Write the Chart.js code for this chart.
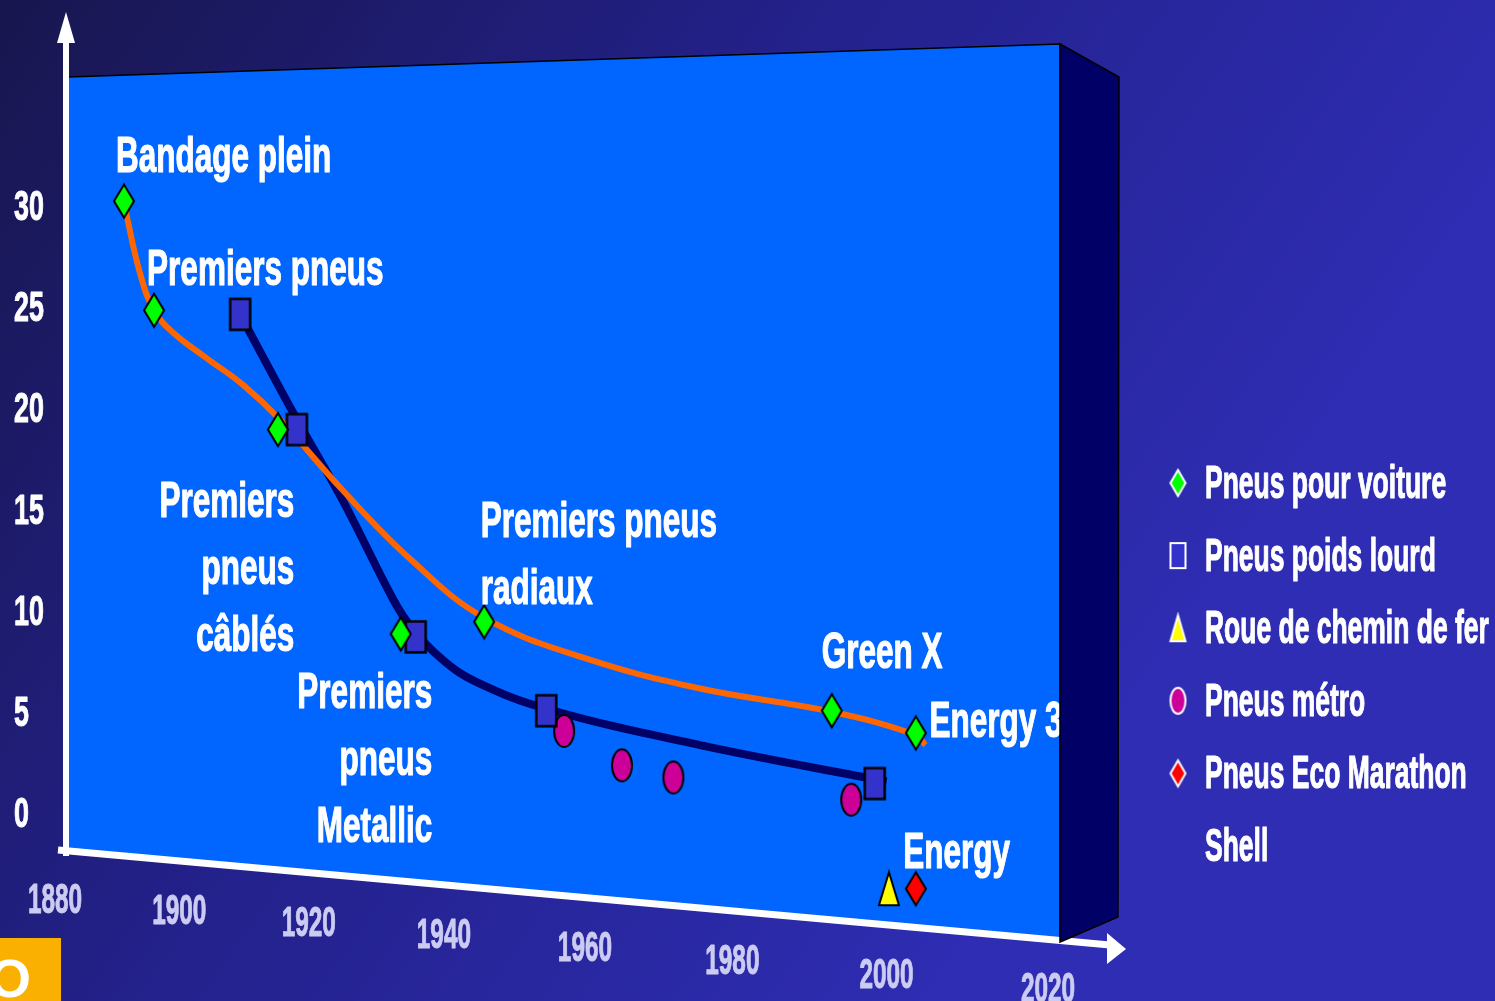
<!DOCTYPE html>
<html>
<head>
<meta charset="utf-8">
<title>Résistance au roulement des pneus</title>
<script src="https://cdn.jsdelivr.net/npm/chart.js@4.4.1/dist/chart.umd.min.js"></script>
<style>
  html, body { margin: 0; padding: 0; width: 1495px; height: 1001px; overflow: hidden; background: #1c1a5c; }
  canvas { display: block; }
</style>
</head>
<body>
<canvas id="chart" width="1495" height="1001"></canvas>
<script>
// ---- Axis ticks ----
const xTicks = [1880, 1900, 1920, 1940, 1960, 1980, 2000, 2020];
const yTicks = [0, 5, 10, 15, 20, 25, 30];

// ---- Series: year / value ----
const voitureYears  = [1891.2, 1896.0, 1915.3, 1933.7, 1945.8, 1993.0, 2003.7];
const voitureValues = [30.2, 24.8, 18.9, 8.8, 9.4, 5.0, 3.9];

const poidsLourdYears  = [1909.5, 1918.2, 1935.9, 1954.6, 1998.5];
const poidsLourdValues = [24.6, 18.9, 8.65, 5.0, 1.4];

const cheminDeFerYears  = [2000.3];
const cheminDeFerValues = [-3.8];

const metroYears  = [1957.1, 1965.1, 1972.1, 1995.5];
const metroValues = [4.0, 2.3, 1.7, 0.6];

const ecoMarathonYears  = [2003.7];
const ecoMarathonValues = [-3.8];

// ---- Trend curves ----
const voitureTrendYears  = [1891.4, 1893.8, 1896.0, 1899.0, 1904.0, 1910.0, 1915.6, 1925.1, 1935.1, 1945.8, 1960.0, 1975.7, 1993.0, 2003.7, 2004.9];
const voitureTrendValues = [29.8, 26.6, 24.8, 23.7, 22.5, 21.1, 19.4, 15.9, 12.5, 9.6, 7.6, 6.1, 4.95, 3.8, 3.3];

const poidsLourdTrendYears  = [1909.5, 1918.2, 1925.1, 1932.6, 1935.1, 1939.9, 1944.8, 1954.6, 1975.7, 2000.0];
const poidsLourdTrendValues = [24.6, 19.4, 15.4, 10.5, 9.2, 7.5, 6.4, 5.1, 3.3, 1.5];

// ---- Text annotations anchored in (year, value) ----
const notes = [
  { lines: ['Bandage plein'], year: 1889.9, value: 31.64, align: 'left' },
  { lines: ['Premiers pneus'], year: 1894.9, value: 26.05, align: 'left' },
  { lines: ['Premiers', 'pneus', 'câblés'], year: 1917.8, value: 14.58, align: 'right' },
  { lines: ['Premiers', 'pneus', 'Metallic'], year: 1938.3, value: 5.14, align: 'right' },
  { lines: ['Premiers pneus', 'radiaux'], year: 1945.3, value: 13.59, align: 'left' },
  { lines: ['Green X'], year: 1991.7, value: 7.12, align: 'left' },
  { lines: ['Energy 3'], year: 2005.4, value: 3.71, align: 'left' },
  { lines: ['Energy'], year: 2002.1, value: -2.77, align: 'left' }
];

const zip = (xs, ys) => xs.map((x, i) => ({ x, y: ys[i] }));

// ---- Marker sprites ----
function marker(shape, w, h, fill, stroke, lw) {
  const c = document.createElement('canvas');
  c.width = w + lw * 2 + 2;
  c.height = h + lw * 2 + 2;
  const g = c.getContext('2d');
  const cx = c.width / 2, cy = c.height / 2;
  g.beginPath();
  if (shape === 'diamond') {
    g.moveTo(cx, cy - h / 2); g.lineTo(cx + w / 2, cy); g.lineTo(cx, cy + h / 2); g.lineTo(cx - w / 2, cy); g.closePath();
  } else if (shape === 'rect') {
    g.rect(cx - w / 2, cy - h / 2, w, h);
  } else if (shape === 'ellipse') {
    g.ellipse(cx, cy, w / 2, h / 2, 0, 0, Math.PI * 2);
  } else if (shape === 'triangle') {
    g.moveTo(cx, cy - h / 2); g.lineTo(cx + w / 2, cy + h / 2); g.lineTo(cx - w / 2, cy + h / 2); g.closePath();
  }
  g.fillStyle = fill; g.fill();
  g.lineWidth = lw; g.strokeStyle = stroke; g.lineJoin = 'miter'; g.stroke();
  return c;
}

const GREEN = '#00ff00', BLUE = '#3333cc', YELLOW = '#ffff00', MAGENTA = '#cc0099', RED = '#ff0000';

// ---- Perspective x scale: the year axis recedes into depth ----
const DEPTH = 1.165;
class PerspectiveScale extends Chart.LinearScale {
  getPixelForValue(value) {
    const s = (value - this.min) / (this.max - this.min);
    const u = s / (DEPTH - (DEPTH - 1) * s);
    return this.left + u * (this.right - this.left);
  }
  getValueForPixel(pixel) {
    const u = (pixel - this.left) / (this.right - this.left);
    const s = DEPTH * u / (1 + (DEPTH - 1) * u);
    return this.min + s * (this.max - this.min);
  }
}
PerspectiveScale.id = 'perspective';
PerspectiveScale.defaults = {};
Chart.register(PerspectiveScale);

// ---- Text helpers (narrow bold face) ----
const FACE = '"Liberation Sans", Arial, sans-serif';
function narrowText(ctx, text, x, y, size, squeeze, align, color, heavy) {
  ctx.save();
  ctx.font = 'bold ' + size + 'px ' + FACE;
  ctx.fillStyle = color;
  ctx.strokeStyle = color;
  ctx.textAlign = 'left';
  ctx.textBaseline = 'alphabetic';
  const w = ctx.measureText(text).width * squeeze;
  const left = align === 'right' ? x - w : align === 'center' ? x - w / 2 : x;
  ctx.translate(left, y);
  ctx.scale(squeeze, 1);
  ctx.fillText(text, 0, 0);
  if (heavy) {
    ctx.lineWidth = heavy;
    ctx.lineJoin = 'round';
    ctx.strokeText(text, 0, 0);
  }
  ctx.restore();
  return w;
}

// Box frame (front face, side face, axis arrows)
const frame = {
  front: [[68, 77], [1060, 44], [1060, 942], [68, 852]],
  side: [[1060, 44], [1119, 77], [1118, 917], [1060, 942]],
  yAxisX: 66, yAxisBottom: 856, yAxisTip: 12,
  xAxisStart: [58, 850], xAxisEnd: [1110, 945], xAxisTip: [1126, 949]
};
const axisYAt = x => {
  const [x0, y0] = frame.xAxisStart, [x1, y1] = frame.xAxisEnd;
  return y0 + (y1 - y0) * (x - x0) / (x1 - x0);
};

function poly(ctx, pts) {
  ctx.beginPath();
  pts.forEach((p, i) => i ? ctx.lineTo(p[0], p[1]) : ctx.moveTo(p[0], p[1]));
  ctx.closePath();
}

const backdrop = {
  id: 'backdrop',
  beforeDatasetsDraw(chart) {
    const ctx = chart.ctx, W = chart.width, H = chart.height;
    const xs = chart.scales.x, ys = chart.scales.y;
    ctx.save();
    const g = ctx.createLinearGradient(0, 0, 1100, 760);
    g.addColorStop(0, '#18164e');
    g.addColorStop(0.5, '#23218a');
    g.addColorStop(1, '#2e2db3');
    ctx.fillStyle = g;
    ctx.fillRect(0, 0, W, H);

    // corner tab
    ctx.fillStyle = '#f9b000';
    ctx.fillRect(0, 938, 61, H - 938);
    ctx.fillStyle = '#ffffff';
    ctx.font = 'bold 54px ' + FACE;
    ctx.textAlign = 'center';
    ctx.fillText('O', 10, 997);

    // front face
    poly(ctx, frame.front);
    ctx.fillStyle = '#0066ff';
    ctx.fill();
    ctx.lineWidth = 1.5;
    ctx.strokeStyle = '#000000';
    ctx.stroke();

    // x axis (slanted) with arrow
    ctx.strokeStyle = '#ffffff';
    ctx.fillStyle = '#ffffff';
    ctx.lineWidth = 7;
    ctx.lineCap = 'butt';
    ctx.beginPath();
    ctx.moveTo(frame.xAxisStart[0], frame.xAxisStart[1]);
    ctx.lineTo(frame.xAxisEnd[0], frame.xAxisEnd[1]);
    ctx.stroke();
    ctx.beginPath();
    ctx.moveTo(frame.xAxisTip[0], frame.xAxisTip[1]);
    ctx.lineTo(1107, 933);
    ctx.lineTo(1107, 964);
    ctx.closePath();
    ctx.fill();

    // y axis with arrow
    ctx.lineWidth = 6;
    ctx.beginPath();
    ctx.moveTo(frame.yAxisX, frame.yAxisBottom);
    ctx.lineTo(frame.yAxisX, 40);
    ctx.stroke();
    ctx.beginPath();
    ctx.moveTo(frame.yAxisX, frame.yAxisTip);
    ctx.lineTo(frame.yAxisX + 9, 43);
    ctx.lineTo(frame.yAxisX - 9, 43);
    ctx.closePath();
    ctx.fill();

    // y tick labels
    yTicks.forEach(v => {
      narrowText(ctx, String(v), 14, ys.getPixelForValue(v) + 15, 42, 0.64, 'left', '#ffffff', 1);
    });
    // x tick labels along the slanted axis
    xTicks.forEach(t => {
      const px = xs.getPixelForValue(t);
      narrowText(ctx, String(t), px, axisYAt(px) + 63, 42, 0.58, 'center', '#ccccf2', 1);
    });
    ctx.restore();
  },
  afterDatasetsDraw(chart) {
    const ctx = chart.ctx;
    const xs = chart.scales.x, ys = chart.scales.y;
    ctx.save();
    // annotations
    notes.forEach(n => {
      const px = xs.getPixelForValue(n.year);
      const py = ys.getPixelForValue(n.value);
      n.lines.forEach((line, i) => {
        narrowText(ctx, line, px, py + i * 67, 50, 0.63, n.align, '#ffffff', 1.2);
      });
    });
    // side face of the box
    poly(ctx, frame.side);
    ctx.fillStyle = '#000066';
    ctx.fill();
    ctx.lineWidth = 1.5;
    ctx.strokeStyle = '#000000';
    ctx.stroke();

    // legend
    const items = chart.data.datasets.filter(d => d.legendIcon);
    const lx = 1178, tx = 1205, maxW = 290, row = 72.6;
    let line = 0;
    const top = 483;
    items.forEach(d => {
      const cy = top + line * row;
      ctx.drawImage(d.legendIcon, lx - d.legendIcon.width / 2, cy - d.legendIcon.height / 2);
      // word wrap
      const words = d.label.split(' ');
      const lines = [];
      let cur = '';
      ctx.font = 'bold 47px ' + FACE;
      words.forEach(w => {
        const test = cur ? cur + ' ' + w : w;
        if (ctx.measureText(test).width * 0.563 > maxW && cur) { lines.push(cur); cur = w; }
        else cur = test;
      });
      lines.push(cur);
      lines.forEach((l, i) => {
        narrowText(ctx, l, tx, cy + 15 + i * row, 47, 0.563, 'left', '#ffffff', 1.2);
      });
      line += lines.length;
    });
    ctx.restore();
  }
};

const markerSet = (label, years, values, style, icon) => ({
  label,
  data: zip(years, values),
  pointStyle: style,
  pointRadius: 12,
  showLine: false,
  clip: false,
  legendIcon: icon
});

const curve = (years, values, color, width) => ({
  data: zip(years, values),
  showLine: true,
  borderColor: color,
  borderWidth: width,
  pointRadius: 0,
  tension: 0.4,
  borderCapStyle: 'butt',
  borderJoinStyle: 'round',
  clip: false
});

new Chart(document.getElementById('chart'), {
  type: 'scatter',
  data: {
    datasets: [
      markerSet('Pneus pour voiture', voitureYears, voitureValues,
        marker('diamond', 20, 33, GREEN, '#000', 2), marker('diamond', 15, 26, GREEN, '#fff', 2)),
      markerSet('Pneus poids lourd', poidsLourdYears, poidsLourdValues,
        marker('rect', 20, 31, BLUE, '#000', 2.5), marker('rect', 15, 25, BLUE, '#fff', 2)),
      markerSet('Roue de chemin de fer', cheminDeFerYears, cheminDeFerValues,
        marker('triangle', 20, 33, YELLOW, '#000', 2), marker('triangle', 15, 26, YELLOW, '#fff', 2)),
      markerSet('Pneus métro', metroYears, metroValues,
        marker('ellipse', 20, 32, MAGENTA, '#000', 2), marker('ellipse', 15, 26, MAGENTA, '#fff', 2)),
      markerSet('Pneus Eco Marathon Shell', ecoMarathonYears, ecoMarathonValues,
        marker('diamond', 20, 33, RED, '#000', 2), marker('diamond', 15, 26, RED, '#fff', 2)),
      curve(voitureTrendYears, voitureTrendValues, '#ff6600', 6),
      curve(poidsLourdTrendYears, poidsLourdTrendValues, '#000066', 8)
    ]
  },
  options: {
    responsive: false,
    animation: false,
    events: [],
    layout: { padding: { left: 55, right: 447, top: 104, bottom: 88 } },
    scales: {
      x: { type: 'perspective', min: 1880, max: 2020, display: false },
      y: { type: 'linear', min: -5, max: 35, display: false }
    },
    plugins: {
      legend: { display: false },
      tooltip: { enabled: false }
    }
  },
  plugins: [backdrop]
});
</script>
</body>
</html>
